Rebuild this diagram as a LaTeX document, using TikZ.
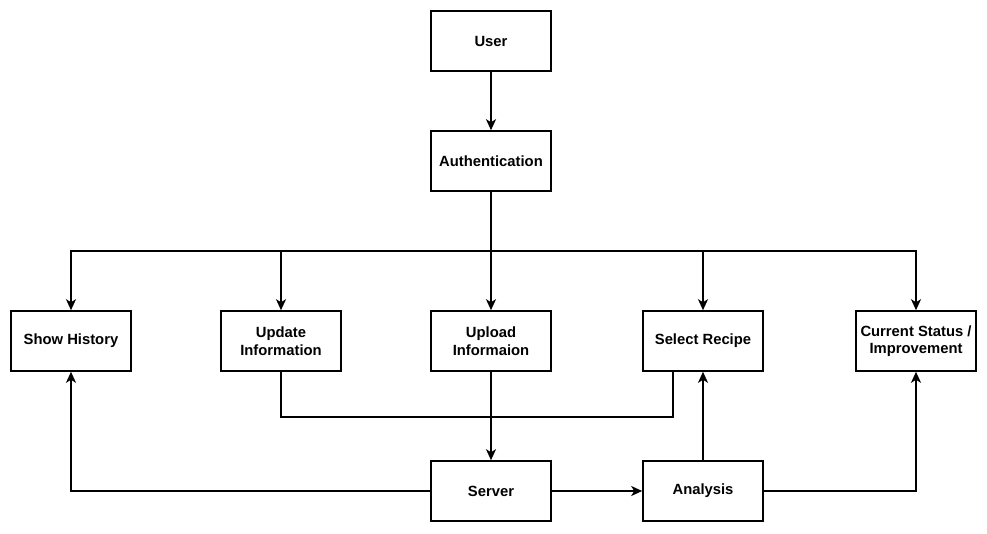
\documentclass[tikz,border=0pt]{standalone}
\usepackage{fontspec}
\setmainfont{Liberation Sans}
\usepackage{tikz}
\usetikzlibrary{arrows.meta}
\usetikzlibrary{positioning}

\begin{document}
\begin{tikzpicture}[x=1pt,y=-1pt,line width=1.6pt,
  block/.style={draw,minimum width=120pt,minimum height=60pt,inner sep=2pt,
    align=center,font=\fontsize{14.8}{17.5}\selectfont\bfseries},
  flow/.style={-{Stealth[length=11pt,width=10pt,inset=3pt]}}]

  \useasboundingbox (0,0) rectangle (987,533);

  % top
  \node[block] (user) at (491,41) {User};
  \node[block] (auth) at (491,161) {Authentication};

  % middle row
  \node[block] (hist) at (71,341) {Show History};
  \node[block] (upd) at (281,341) {Update\\Information};
  \node[block] (upl) at (491,341) {Upload\\Informaion};
  \node[block] (sel) at (703,341) {Select Recipe};
  \node[block] (cur) at (916,341) {Current Status /\\Improvement};

  % bottom
  \node[block] (srv) at (491,491) {Server};
  \node[block] (ana) at (703,491) {Analysis};

  \draw[flow] (user) -- (auth);
  \coordinate (bus) at (491,251);
  \draw (auth) -- (bus);
  \foreach \n in {hist,upd,upl,sel,cur}
    \draw[flow] (bus) -| (\n);

  % update -> select
  \draw (upd.south) -- ++(0,45) -| ([xshift=-30pt]sel.south);

  \draw[flow] (upl) -- (srv);
  \draw[flow] (srv) -| (hist);
  \draw[flow] (srv) -- (ana);
  \draw[flow] (ana) -- (sel);
  \draw[flow] (ana) -| (cur);

\end{tikzpicture}
\end{document}
